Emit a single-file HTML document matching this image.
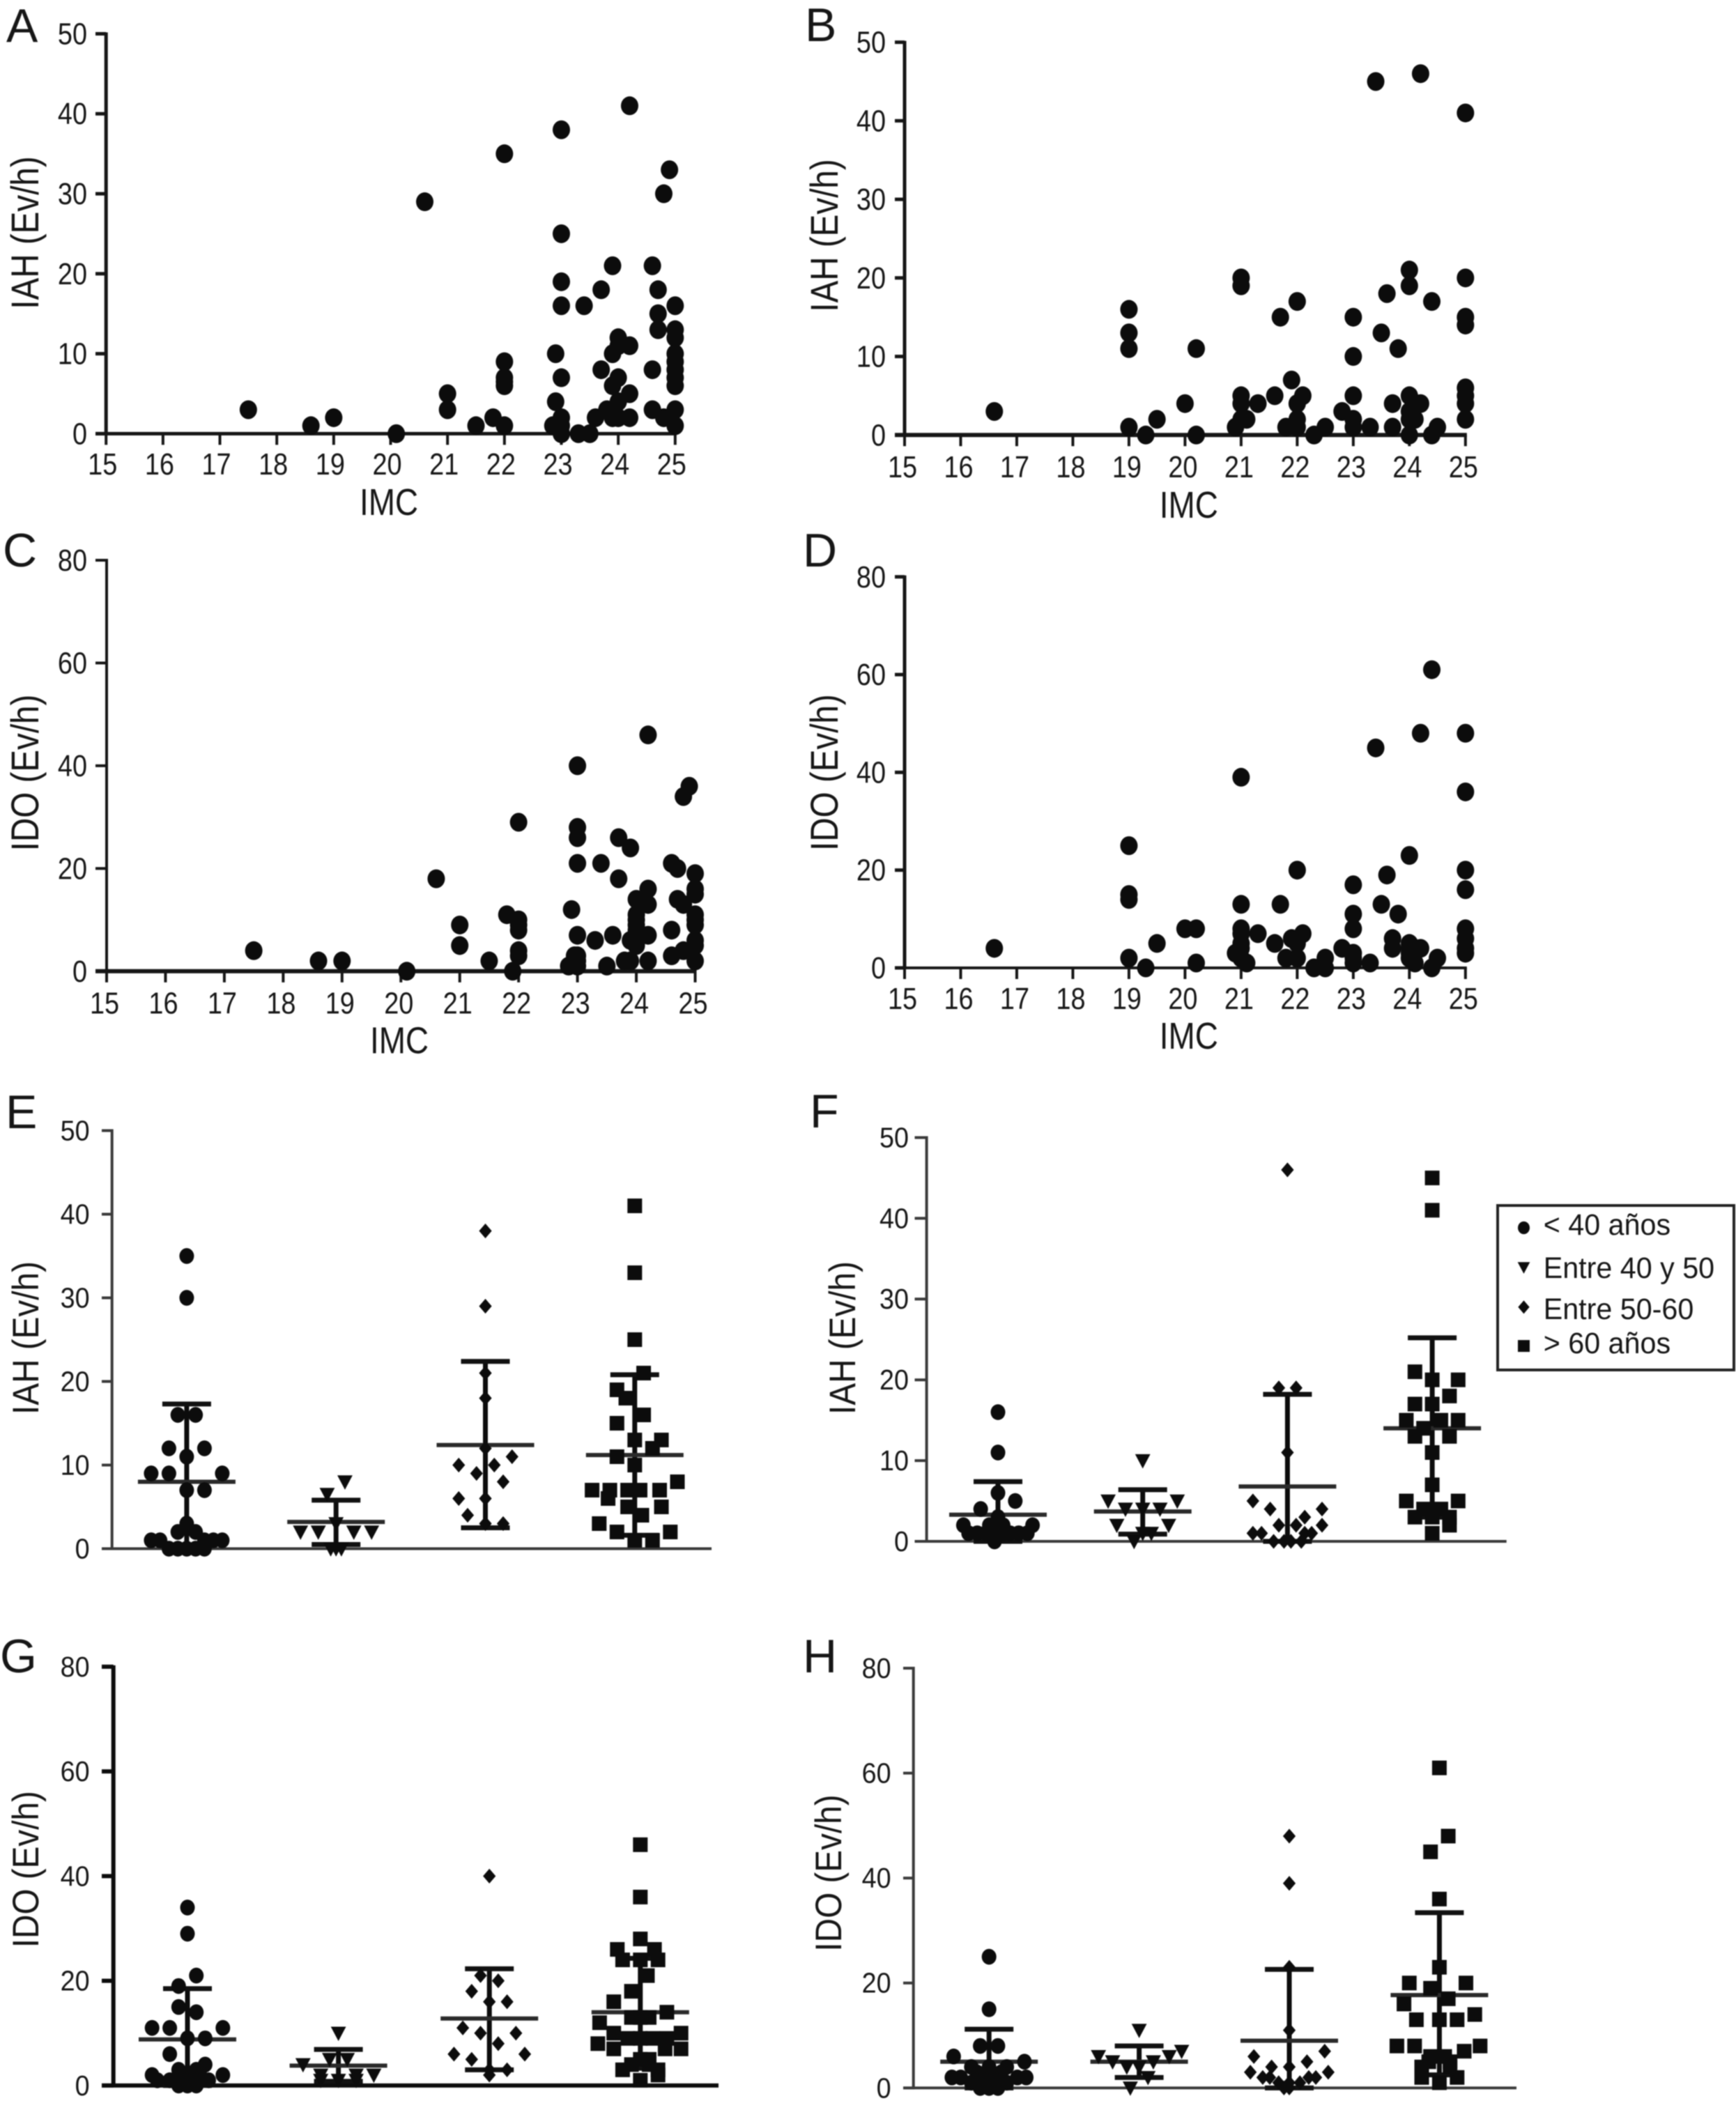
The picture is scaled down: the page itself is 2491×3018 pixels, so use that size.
<!DOCTYPE html>
<html lang="es">
<head>
<meta charset="utf-8">
<title>IAH e IDO según IMC y edad</title>
<style>
html,body{margin:0;padding:0;background:#fff;}
#figure{display:block;width:2491px;height:3018px;background:#fff;filter:blur(.9px);font-family:"Liberation Sans",sans-serif;fill:#161616;}
</style>
</head>
<body>
<svg id="figure" xmlns="http://www.w3.org/2000/svg" width="2491" height="3018" viewBox="0 0 2491 3018">
  <g id="panel-a">
    <text x="9" y="60" font-size="68">A</text>
    <text transform="translate(55,334) rotate(-90) scale(.85,1)" font-size="56" text-anchor="middle">IAH (Ev/h)</text>
    <text transform="translate(558,739) scale(.85,1)" font-size="54" text-anchor="middle">IMC</text>
  </g>
  <g id="panel-b">
    <text x="1155" y="59" font-size="68">B</text>
    <text transform="translate(1202,338) rotate(-90) scale(.85,1)" font-size="56" text-anchor="middle">IAH (Ev/h)</text>
    <text transform="translate(1705.8,743) scale(.85,1)" font-size="54" text-anchor="middle">IMC</text>
  </g>
  <g id="panel-c">
    <text x="4" y="813" font-size="68">C</text>
    <text transform="translate(55,1109) rotate(-90) scale(.85,1)" font-size="56" text-anchor="middle">IDO (Ev/h)</text>
    <text transform="translate(573,1511.6) scale(.85,1)" font-size="54" text-anchor="middle">IMC</text>
  </g>
  <g id="panel-d">
    <text x="1152" y="813" font-size="68">D</text>
    <text transform="translate(1202,1108.6) rotate(-90) scale(.85,1)" font-size="56" text-anchor="middle">IDO (Ev/h)</text>
    <text transform="translate(1705.8,1505) scale(.85,1)" font-size="54" text-anchor="middle">IMC</text>
  </g>
  <g id="panel-e">
    <text x="8" y="1619" font-size="68">E</text>
    <text transform="translate(55,1920) rotate(-90) scale(.9,1)" font-size="53" text-anchor="middle">IAH (Ev/h)</text>
  </g>
  <g id="panel-f">
    <text x="1162" y="1618" font-size="68">F</text>
    <text transform="translate(1227,1920) rotate(-90) scale(.9,1)" font-size="53" text-anchor="middle">IAH (Ev/h)</text>
  </g>
  <g id="panel-g">
    <text x="0" y="2400" font-size="68">G</text>
    <text transform="translate(55,2682.7) rotate(-90) scale(.9,1)" font-size="53" text-anchor="middle">IDO (Ev/h)</text>
  </g>
  <g id="panel-h">
    <text x="1152" y="2400" font-size="68">H</text>
    <text transform="translate(1207,2688) rotate(-90) scale(.9,1)" font-size="53" text-anchor="middle">IDO (Ev/h)</text>
  </g>
  <g id="legend">
    <rect x="2149" y="1730" width="339" height="236" fill="#fff" stroke="#222" stroke-width="4"/>
    <text transform="translate(2214.7,1771.8) scale(.96,1)" font-size="43">&lt; 40 años</text>
    <text transform="translate(2214.7,1834) scale(.96,1)" font-size="43">Entre 40 y 50</text>
    <text transform="translate(2214.7,1892.8) scale(.96,1)" font-size="43">Entre 50-60</text>
    <text transform="translate(2214.7,1941.9) scale(.96,1)" font-size="43">&gt; 60 años</text>
  </g>
</svg>
<script>
// Axis ticks
const imcTicks = [15,16,17,18,19,20,21,22,23,24,25];
const iahTicks = [0,10,20,30,40,50];
const idoTicks = [0,20,40,60,80];

// Panel A
const aImc = [17.5,18.6,19,20.1,20.6, 21,21,21.5,21.8, 22,22,22,22,22,22, 22.9,22.9,22.85, 23,23,23,23,23,23,23,23, 23.3,23.4,23.5,23.6, 23.7,23.7,23.8, 23.9,23.9,23.9,23.9, 24,24,24,24,24, 24.2,24.2,24.2,24.2, 24.6,24.6,24.6, 24.7,24.7,24.7, 24.8,24.8, 24.9, 25,25,25,25,25,25,25,25,25,25];
const aIah = [3,1,2,0,29, 5,3,1,2, 35,9,7,6.5,6,1, 10,4,1, 38,25,19,16,7,2,1,0, 0,16,0,2, 18,8,3, 21,10,6,2, 12,11,7,4,2, 41,11,5,2, 21,8,3, 18,15,13, 30,2, 33, 16,13,12,10,9,8,7,6,3,1];

// Panel B
const bImc = [16.6, 19,19,19,19, 19.3,19.5,20,20.2,20.2,20.9, 21,21,21,21,21, 21.1,21.3,21.6,21.7,21.8,21.9, 22,22,22,22, 22.1,22.3,22.5,22.8, 23,23,23,23,23, 23.3,23.4,23.5,23.6,23.7,23.7,23.8, 24,24,24,24,24,24, 24.1,24.1,24.2,24.2,24.4,24.4,24.5, 25,25,25,25,25,25,25,25];
const bIah = [3, 16,13,11,1, 0,2,4,11,0,1, 20,19,5,4,2, 2,4,5,15,1,7, 17,4,2,1, 5,0,1,3, 15,10,5,2,1, 1,45,13,18,4,1,11, 21,19,5,3,2,0, 4,2,46,4,17,0,1, 41,20,15,14,6,5,4,2];

// Panel C
const cImc = [17.5,18.6,19,20.1,20.6,21,21,21.5,21.8,21.9, 22,22,22,22,22,22, 22.85,22.9,22.95, 23,23,23,23,23,23,23,23, 23.3,23.4,23.5,23.6,23.7,23.7,23.8,23.9,23.9,23.9, 24,24,24,24,24,24,24, 24.2,24.2,24.2,24.2,24.2, 24.6,24.6,24.6, 24.7,24.7, 24.8,24.8,24.8, 24.9, 25,25,25,25,25,25,25,25,25];
const cIdo = [4,2,2,0,18,9,5,2,11,0, 29,10,9,8,4,3, 1,12,3, 40,28,26,21,7,3,2,1, 6,21,1,7,26,18,2,24,6,2, 14,11,10,9,8,6,5, 46,16,13,7,2, 21,8,3, 20,14, 34,13,4, 36, 19,16,15,11,10,9,6,5,2];

// Panel D
const dImc = [16.6, 19,19,19,19, 19.3,19.5,20,20.2,20.2,20.9, 21,21,21,21,21,21,21, 21.1,21.3,21.6,21.7,21.8,21.9, 22,22,22, 22.1,22.3,22.5,22.5,22.8, 23,23,23,23,23,23, 23.3,23.4,23.5,23.6,23.7,23.7,23.8, 24,24,24,24,24, 24.1,24.1,24.2,24.2,24.4,24.4,24.5, 25,25,25,25,25,25,25,25];
const dIdo = [4, 25,15,14,2, 0,5,8,8,1,3, 39,13,8,7,5,4,2, 1,7,5,13,2,6, 20,5,2, 7,0,2,0,4, 17,11,8,3,2,1, 1,45,13,19,6,4,11, 23,5,4,3,2, 4,1,48,4,61,0,2, 48,36,20,16,8,6,4,3];

// Age categories
const ageGroups = ['< 40 años','Entre 40 y 50','Entre 50-60','> 60 años'];
const ageShapes = ['circle','triangle','diamond','square'];

// Panel E: values, swarm columns, mean and error limits
const eValues = [
  [35,30,16,16,12,12,11,9,9,9,7,7,3,2,2,1,1,1,1,1,0,0,0,0,0],
  [8,6.5,3,2,2,2,2,0,0,0],
  [38,29,21,18,12,11,10,10,9,8,6,6,4,3,3],
  [41,33,25,21,19,18,16,15,13,13,12,11,10,8,7,7,7,7,7,6,5,5,4,3,2,2,1,1]
];
const eColumns = [
  [0,0,-.5,.5,-1,1,0,-2,-1,2,0,1,0,-.5,.5,-2,-1.5,1,1.5,2,-1,-.5,0,.5,1],
  [.5,-.5,0,-2,-1,1,2,-.3,0,.3],
  [0,0,0,0,0,1.5,-1.5,.5,-.5,1,-1.5,0,-1,0,1],
  [0,0,0,.5,-1,-.5,.5,-1,0,1.5,1,-1,0,2.4,-2.4,-1.4,-.4,.3,1.4,-1.5,-.4,1.5,.4,-2,-1,2,0,1]
];
const eMean = [8,3.2,12.4,11.2];
const eUpper = [17.3,5.8,22.4,20.8];
const eLower = [0,.5,2.5,1.6];

// Panel F
const fValues = [
  [16,11,6,5,4,3,2,2,2,2,1,1,1,1,1,1,1,1,0],
  [10,5,5,4,4,4,2,2,1,1,0],
  [46,19,19,11,5,4,4,3,2,2,2,1,1,1,1,0,0,0,0],
  [45,41,21,20,20,18,17,17,15,15,15,14,13,13,11,7,5,5,4,4,3,3,3,2,1]
];
const fColumns = [
  [0,0,0,1,-1,0,-2,-.5,.3,2,-1.7,-1.2,-.7,-.2,.3,.7,1.2,1.7,-.2],
  [0,-2,2,-1,0,1,-1.5,1.5,0,.5,-.5],
  [0,-.5,.5,0,-2,-1,2,1,-.5,.5,2,-2,-1.5,1,1.4,-.8,-.2,.2,.8],
  [0,0,-1,0,1.5,1,-1,0,-1.5,.5,1.5,-.5,-1,1,0,0,-1.5,1.5,-.5,.5,-1,0,1,1,0]
];
const fMean = [3.3,3.7,6.8,14];
const fUpper = [7.4,6.4,18.2,25.2];
const fLower = [0,.9,0,3];

// Panel G
const gValues = [
  [34,29,21,19,15,14,11,11,11,9,9,6,4,3,3,2,2,2,2,1,1,1,1,0,0,0],
  [10,5,5,4,2,2,2,1,1,1],
  [40,21,20,18,16,16,11,10,10,8,6,6,5,3,3,2],
  [46,36,28,26,26,24,24,24,21,18,16,14,13,13,13,12,10,10,9,9,9,9,8,7,7,7,5,5,4,4,3,3,2,1]
];
const gColumns = [
  [0,0,.5,-.5,-.5,.5,-2,-1,2,0,1,-1,1,-.5,.5,-2,-.5,.7,2,-1.7,-1,0,1.2,-.5,0,.5],
  [0,-.5,.5,-2,-1,1,2,-1,0,1],
  [0,-.5,.5,-1,0,1,-1.5,-.5,1.5,.5,-2,2,-1,0,1,0],
  [0,0,0,-1.3,.8,-1,0,1,.4,-.5,-1.5,1.5,-.5,0,.5,-2.3,-1.5,2.3,-.7,0,.7,1.5,-2.4,-1.5,1.4,2.3,0,.5,-.5,.5,-1,1,1,0]
];
const gMean = [8.8,3.8,12.8,14];
const gUpper = [18.5,6.9,22.3,24.3];
const gLower = [0,.8,3,3.3];

// Panel H
const hValues = [
  [25,15,8,8,6,5,4,4,4,3,3,3,2,2,2,2,2,1,1,1,1,0,0,0],
  [11,6,7,6,5,5,4,4,2,0],
  [48,39,23,11,7,6,5,4,4,3,3,2,2,2,2,1,1,1,0,0],
  [61,48,45,36,23,20,20,19,17,16,14,13,13,13,8,8,8,7,6,6,5,5,4,4,3,2,2,1]
];
const hColumns = [
  [0,0,-.5,.5,-2,2,-1,0,1,-.7,0,.7,-2.1,-1.6,-.3,1.6,2.1,-1,-.3,.3,1,-.5,0,.5],
  [0,-2.3,2.4,1.7,-1.5,.8,-.7,0,.5,-.5],
  [0,0,0,0,2,-2,1,-1,0,-2.2,2.2,-1.5,-1.1,1.1,1.5,-.6,.6,0,0,-.3],
  [0,.5,-.5,0,0,-1.7,1.5,-.5,.5,-2,2,-1.3,0,1,-2.4,-1.4,2.3,1.4,-.5,.3,-.6,.6,-1,.6,-1,-1,1,0]
];
const hMean = [5,5,9,17.7];
const hUpper = [11.2,8,22.6,33.4];
const hLower = [0,2,0,2.5];

// Layout only below this line
const NS = 'http://www.w3.org/2000/svg';
function svgEl(parent, tag, attrs) {
  const el = document.createElementNS(NS, tag);
  for (const k in attrs) el.setAttribute(k, attrs[k]);
  parent.appendChild(el);
  return el;
}
function line(parent, x1, y1, x2, y2, color, width) {
  return svgEl(parent, 'line', {x1:x1, y1:y1, x2:x2, y2:y2, stroke:color, 'stroke-width':width});
}
function label(parent, str, x, y, size, sx, anchor) {
  const el = svgEl(parent, 'text', {transform:'translate('+x+','+y+') scale('+sx+',1)', 'font-size':size, 'text-anchor':anchor});
  el.textContent = str;
  return el;
}
function shape(parent, kind, cx, cy, s) {
  if (kind === 'circle') return svgEl(parent, 'ellipse', {cx:cx, cy:cy, rx:s*.5, ry:s*.54, fill:'#0c0c0c'});
  if (kind === 'square') return svgEl(parent, 'rect', {x:cx-s*.5, y:cy-s*.5, width:s, height:s, fill:'#0c0c0c'});
  if (kind === 'triangle') return svgEl(parent, 'path', {d:'M'+(cx-s*.52)+' '+(cy-s*.44)+'L'+(cx+s*.52)+' '+(cy-s*.44)+'L'+cx+' '+(cy+s*.54)+'Z', fill:'#0c0c0c'});
  return svgEl(parent, 'path', {d:'M'+cx+' '+(cy-s*.56)+'L'+(cx+s*.48)+' '+cy+'L'+cx+' '+(cy+s*.56)+'L'+(cx-s*.48)+' '+cy+'Z', fill:'#0c0c0c'});
}
function drawYAxis(g, L, ticks) {
  const yMax = ticks[ticks.length-1];
  const axis = line(g, L.axisX, L.top-2, L.axisX, L.y0+2, L.axisColor, L.yW);
  
  
  ticks.forEach(t => {
    const y = L.y0 - t/yMax*(L.y0-L.top);
    const tick = line(g, L.tickLeft, y, L.axisX, y, L.axisColor, L.yW);
    
    
    const txt = label(g, String(t), L.labelRight, y+L.fontSize*.34, L.fontSize, L.fontScale, 'end');
    
    
  });
}
function drawScatter(id, L, xs, ys, ticks) {
  const g = document.getElementById(id);
  const yMax = ticks[ticks.length-1];
  const sx = v => L.axisX + (v-15)/10*(L.x1-L.axisX);
  const sy = v => L.y0 - v/yMax*(L.y0-L.top);
  drawYAxis(g, L, ticks);
  const xAxis = line(g, L.tickLeft, L.y0, L.x1+2, L.y0, L.axisColor, L.xW);
  
  
  imcTicks.forEach(t => {
    const tick = line(g, sx(t), L.y0, sx(t), L.y0+16, L.axisColor, 4);
    
    
    const txt = label(g, String(t), sx(t)+L.labelShift, L.xLabelY, L.fontSize, L.fontScale, 'middle');
    
    
  });
  xs.forEach((x, i) => {
    const dot = svgEl(g, 'ellipse', {cx:sx(x), cy:sy(ys[i]), rx:12.5, ry:13.5, fill:'#0c0c0c'});
    
    
  });
}
function drawSwarm(id, L, values, columns, means, uppers, lowers, ticks) {
  const g = document.getElementById(id);
  const yMax = ticks[ticks.length-1];
  const sy = v => L.y0 - v/yMax*(L.y0-L.top);
  drawYAxis(g, L, ticks);
  const xAxis = line(g, L.tickLeft, L.y0, L.x1, L.y0, L.axisColor, L.xW);
  
  
  ageGroups.forEach((name, c) => {
    const cx = L.c0 + c*L.step;
    const stem = line(g, cx, sy(uppers[c]), cx, sy(lowers[c]), '#0c0c0c', 7);
    
    
    const top = line(g, cx-35, sy(uppers[c]), cx+35, sy(uppers[c]), '#111', 7);
    
    
    const bottom = line(g, cx-35, sy(lowers[c]), cx+35, sy(lowers[c]), '#111', 7);
    
    
    const mean = line(g, cx-70, sy(means[c]), cx+70, sy(means[c]), '#2a2a2a', 6);
    
    
    values[c].forEach((v, i) => {
      const m = shape(g, ageShapes[c], cx + columns[c][i]*L.unit, sy(v), ageShapes[c] === 'diamond' ? 19 : 21);
      
      
    });
  });
}
const base14 = {axisColor:'#161616', fontSize:44, fontScale:.86};
drawScatter('panel-a', Object.assign({}, base14, {axisX:152.2, x1:968.8, y0:622.4, top:48.5, tickLeft:137, labelRight:125, xLabelY:681, labelShift:-5, xW:5, yW:5}), aImc, aIah, iahTicks);
drawScatter('panel-b', Object.assign({}, base14, {axisX:1298, x1:2102.8, y0:624.3, top:60.6, tickLeft:1284, labelRight:1271, xLabelY:685, labelShift:-3, xW:6, yW:5}), bImc, bIah, iahTicks);
drawScatter('panel-c', Object.assign({}, base14, {axisX:153, x1:997.5, y0:1393.8, top:804, tickLeft:137, labelRight:125, xLabelY:1454.5, labelShift:-3, xW:6, yW:4}), cImc, cIdo, idoTicks);
drawScatter('panel-d', Object.assign({}, base14, {axisX:1298, x1:2102.8, y0:1389, top:827.8, tickLeft:1284, labelRight:1271, xLabelY:1448, labelShift:-3, xW:4, yW:5}), dImc, dIdo, idoTicks);
const base38 = {fontSize:41, fontScale:.92};
drawSwarm('panel-e', Object.assign({}, base38, {axisColor:'#3a3a3a', axisX:160.7, x1:1021, y0:2222.5, top:1622.5, tickLeft:146, labelRight:128.6, c0:267.9, step:214.3, unit:25.5, xW:4, yW:4}), eValues, eColumns, eMean, eUpper, eLower, iahTicks);
drawSwarm('panel-f', Object.assign({}, base38, {axisColor:'#3a3a3a', axisX:1329.6, x1:2161.7, y0:2212, top:1632.5, tickLeft:1312.5, labelRight:1304, c0:1432, step:207.7, unit:24.8, xW:4, yW:4}), fValues, fColumns, fMean, fUpper, fLower, iahTicks);
drawSwarm('panel-g', Object.assign({}, base38, {axisColor:'#0c0c0c', axisX:162.7, x1:1031, y0:2992.9, top:2391.9, tickLeft:146, labelRight:128.6, c0:269, step:216.6, unit:25.4, xW:6, yW:6}), gValues, gColumns, gMean, gUpper, gLower, idoTicks);
drawSwarm('panel-h', Object.assign({}, base38, {axisColor:'#3a3a3a', axisX:1310.7, x1:2176, y0:2996.4, top:2394, tickLeft:1296, labelRight:1278.6, c0:1419.2, step:215.4, unit:25.4, xW:4, yW:4}), hValues, hColumns, hMean, hUpper, hLower, idoTicks);

const legendGroup = document.getElementById('legend');
const legendRows = [1762,1818.7,1875.8,1931.6];
ageShapes.forEach((kind, i) => {
  const m = shape(legendGroup, kind, 2186.5, legendRows[i], 17);
  
  
});
</script>
</body>
</html>
